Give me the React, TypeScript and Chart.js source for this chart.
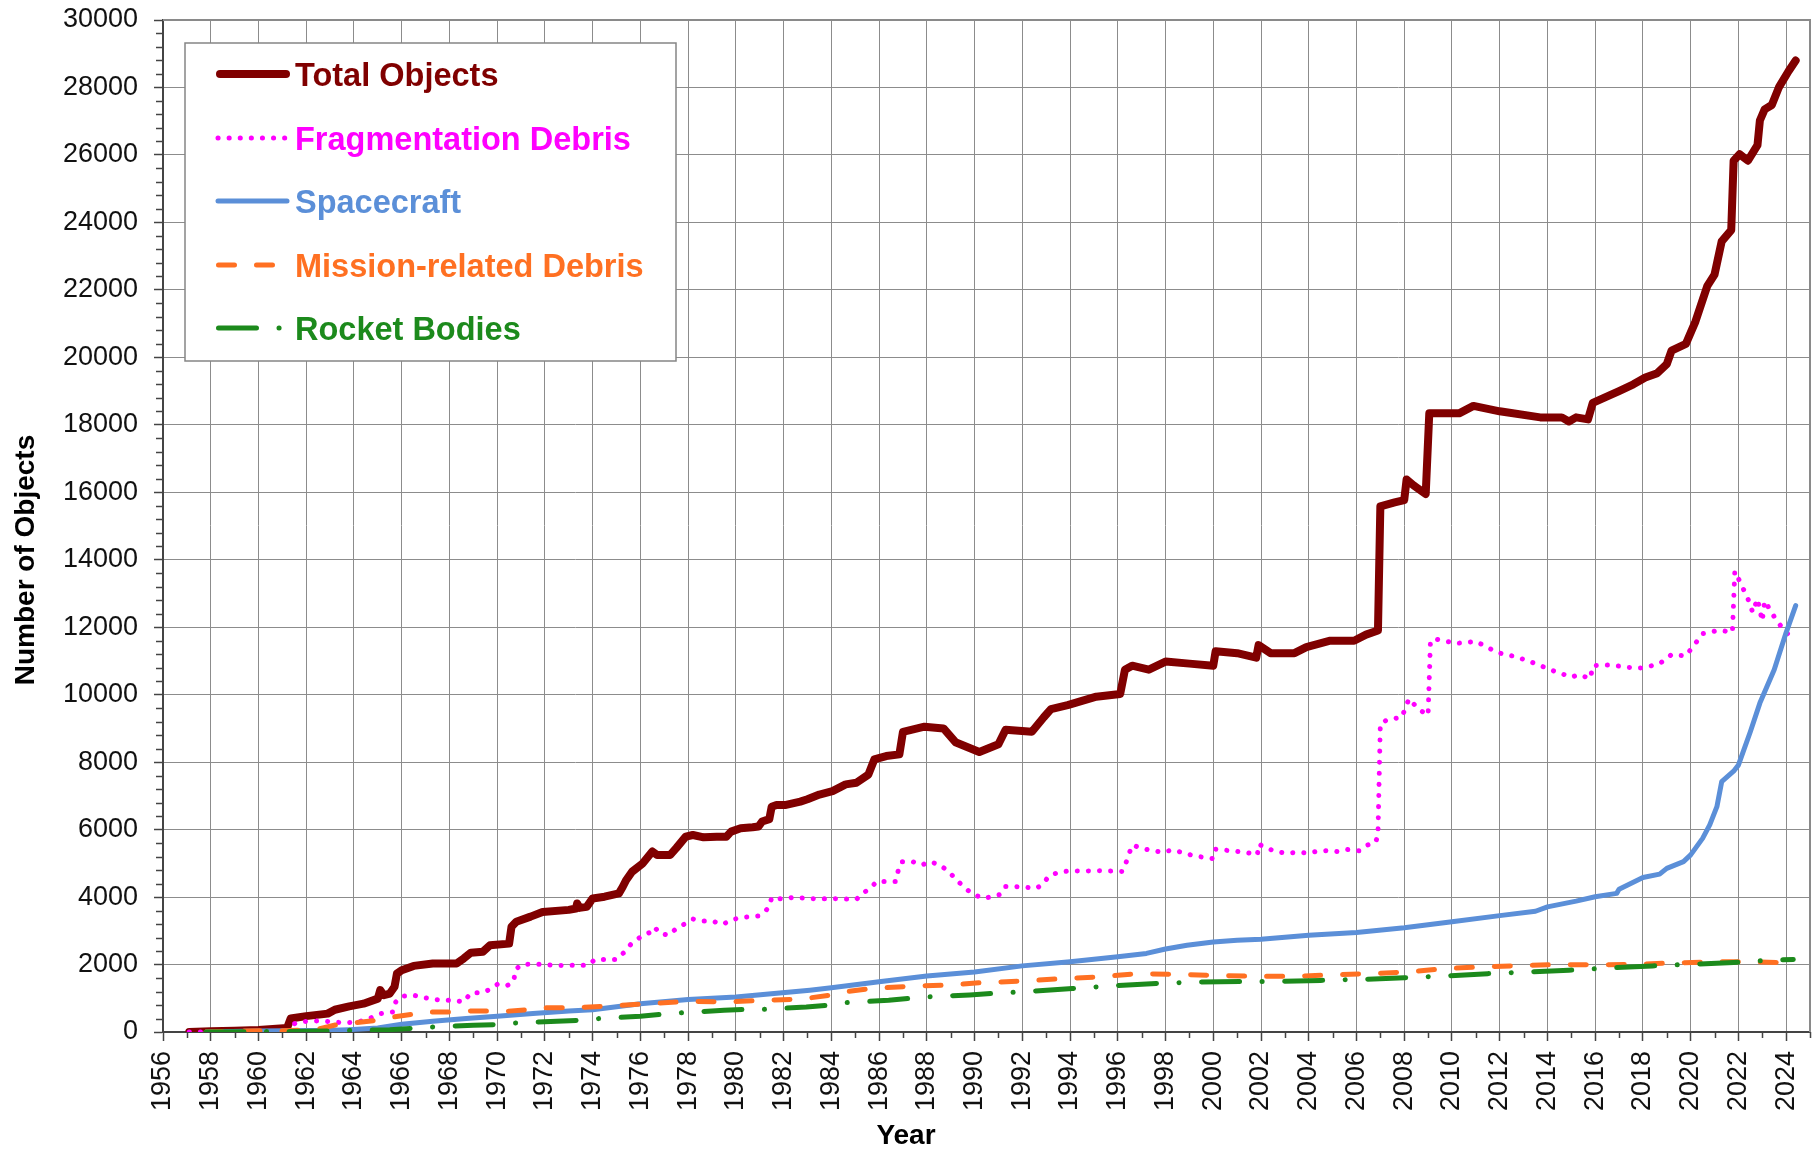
import React, { useEffect, useRef } from 'react';
import { Chart, registerables } from 'chart.js';

Chart.register(...registerables);

const W = 1813;
const H = 1153;
const FONT = '"Liberation Sans", Arial, Helvetica, sans-serif';

// ---- tick labels ----
const xTickYears = [
  1956, 1958, 1960, 1962, 1964, 1966, 1968, 1970, 1972, 1974, 1976, 1978, 1980, 1982, 1984,
  1986, 1988, 1990, 1992, 1994, 1996, 1998, 2000, 2002, 2004, 2006, 2008, 2010, 2012, 2014,
  2016, 2018, 2020, 2022, 2024,
];
const yTickValues = [
  0, 2000, 4000, 6000, 8000, 10000, 12000, 14000, 16000, 18000, 20000, 22000, 24000, 26000,
  28000, 30000,
];

// ---- series names ----
const seriesNames = [
  'Total Objects',
  'Fragmentation Debris',
  'Spacecraft',
  'Mission-related Debris',
  'Rocket Bodies',
];

// ---- Total Objects ----
const totalYears = [
  1957.1, 1958.0, 1959.0, 1960.0, 1961.2, 1961.35, 1962.0, 1962.9, 1963.2, 1963.8, 1964.4,
  1965.0, 1965.1, 1965.25, 1965.5, 1965.7, 1965.8, 1966.0, 1966.5, 1967.3, 1968.3, 1968.6,
  1968.9, 1969.4, 1969.7, 1970.5, 1970.6, 1970.8, 1971.4, 1971.9, 1973.0, 1973.3, 1973.35,
  1973.45, 1973.75, 1974.0, 1974.5, 1975.1, 1975.25, 1975.4, 1975.65, 1976.1, 1976.5, 1976.7,
  1977.25, 1977.5, 1977.9, 1978.2, 1978.65, 1979.2, 1979.6, 1979.8, 1980.2, 1980.7, 1980.95,
  1981.1, 1981.4, 1981.5, 1981.7, 1982.1, 1982.7, 1983.0, 1983.5, 1984.05, 1984.6, 1985.05,
  1985.55, 1985.8, 1986.3, 1986.85, 1987.0, 1987.9, 1988.7, 1989.2, 1990.2, 1991.0, 1991.3,
  1992.4, 1992.9, 1993.2, 1993.9, 1995.1, 1996.1, 1996.3, 1996.6, 1997.3, 1998.0, 1999.0,
  2000.0, 2000.1, 2001.0, 2001.8, 2001.9, 2002.4, 2003.4, 2003.9, 2004.9, 2005.9, 2006.4,
  2006.9, 2007.0, 2007.6, 2008.0, 2008.1, 2008.4, 2008.9, 2009.05, 2010.3, 2010.9, 2012.0,
  2013.7, 2014.6, 2014.9, 2015.2, 2015.7, 2015.9, 2016.6, 2017.0, 2017.6, 2018.1, 2018.6,
  2019.0, 2019.2, 2019.8, 2020.2, 2020.7, 2021.0, 2021.3, 2021.7, 2021.8, 2022.05, 2022.4,
  2022.8, 2022.9, 2023.1, 2023.4, 2023.7, 2024.1, 2024.4,
];
const totalCounts = [
  0, 20, 40, 60, 120, 400, 470, 545, 660, 760, 840,
  990, 1240, 1090, 1140, 1340, 1730, 1830, 1960, 2030, 2030, 2180,
  2350, 2380, 2570, 2620, 3120, 3270, 3420, 3560, 3620, 3660, 3810,
  3680, 3710, 3960, 4010, 4110, 4290, 4500, 4750, 5000, 5350, 5250,
  5250, 5450, 5790, 5840, 5770, 5790, 5790, 5940, 6040, 6070, 6090,
  6240, 6310, 6680, 6730, 6730, 6830, 6900, 7040, 7140, 7340, 7390,
  7630, 8080, 8180, 8230, 8900, 9050, 9000, 8590, 8300, 8530, 8960,
  8900, 9330, 9570, 9690, 9940, 10020, 10740, 10860, 10740, 10980, 10920,
  10860, 11290, 11230, 11100, 11470, 11230, 11230, 11410, 11600, 11600, 11780,
  11900, 15580, 15700, 15770, 16380, 16200, 15950, 18340, 18340, 18560, 18400,
  18220, 18220, 18100, 18220, 18160, 18650, 18870, 19000, 19200, 19400, 19530,
  19800, 20200, 20400, 21060, 22120, 22450, 23440, 23770, 25830, 26020, 25830,
  26290, 27020, 27350, 27480, 28010, 28480, 28800,
];

// ---- Fragmentation Debris ----
const fragYears = [
  1957.1, 1961.3, 1961.4, 1961.75, 1962.65, 1963.6, 1964.1, 1964.5, 1965.1, 1965.65, 1965.75,
  1966.0, 1966.5, 1966.8, 1967.3, 1967.7, 1968.2, 1968.6, 1968.9, 1969.3, 1969.7, 1970.0,
  1970.4, 1970.7, 1970.75, 1971.0, 1971.4, 1971.9, 1972.3, 1972.8, 1973.35, 1973.8, 1974.1,
  1975.0, 1975.3, 1975.6, 1976.1, 1976.4, 1976.6, 1976.8, 1977.2, 1977.5, 1977.9, 1978.2,
  1978.6, 1979.0, 1979.45, 1979.8, 1980.2, 1980.6, 1980.95, 1981.2, 1981.4, 1981.5, 1981.95,
  1982.4, 1983.3, 1984.15, 1985.05, 1985.3, 1985.6, 1985.9, 1986.7, 1986.8, 1986.95, 1987.4,
  1987.8, 1988.1, 1988.5, 1988.9, 1989.25, 1989.55, 1989.9, 1990.4, 1990.7, 1991.1, 1991.3,
  1991.7, 1992.15, 1992.6, 1992.9, 1993.1, 1993.5, 1993.9, 1995.3, 1996.2, 1996.35, 1996.6,
  1997.1, 1997.5, 1997.9, 1998.3, 1998.7, 1999.2, 1999.6, 2000.0, 2000.1, 2000.5, 2001.0,
  2001.4, 2001.85, 2001.9, 2002.3, 2002.7, 2003.1, 2003.55, 2003.95, 2004.3, 2004.8, 2005.2,
  2005.6, 2006.1, 2006.4, 2006.8, 2006.9, 2007.0, 2007.3, 2007.9, 2008.2, 2008.6, 2009.0,
  2009.1, 2009.3, 2010.2, 2011.0, 2011.9, 2012.7, 2013.5, 2014.2, 2015.0, 2015.3, 2015.8,
  2015.9, 2016.6, 2017.4, 2018.0, 2018.7, 2019.2, 2019.8, 2020.2, 2020.5, 2021.2, 2021.75,
  2021.85, 2022.05, 2022.4, 2022.6, 2022.8, 2023.0, 2023.1, 2023.5, 2023.9, 2024.3,
];
const fragCounts = [
  0, 0, 220, 310, 330, 270, 300, 350, 545, 595, 890,
  1060, 1090, 1040, 970, 940, 940, 890, 1160, 1160, 1260, 1410,
  1370, 1500, 1830, 2000, 2010, 2010, 1980, 1970, 1980, 1980, 2150,
  2150, 2350, 2600, 2870, 2950, 3110, 2920, 2870, 3070, 3220, 3350,
  3290, 3290, 3190, 3320, 3390, 3420, 3440, 3560, 3710, 3990, 3940,
  3990, 3950, 3950, 3930, 4110, 4240, 4460, 4460, 4780, 5050, 5050,
  4950, 5050, 4970, 4770, 4500, 4310, 4090, 3960, 4010, 4080, 4310,
  4310, 4290, 4260, 4410, 4620, 4730, 4770, 4780, 4760, 5030, 5540,
  5430, 5370, 5330, 5400, 5320, 5220, 5180, 5140, 5420, 5390, 5350,
  5320, 5250, 5570, 5430, 5340, 5300, 5330, 5300, 5350, 5380, 5350,
  5410, 5370, 5530, 5610, 5860, 9140, 9260, 9330, 9880, 9570, 9390,
  11600, 11650, 11520, 11580, 11250, 11120, 10920, 10720, 10520, 10590, 10480,
  10860, 10880, 10810, 10790, 10920, 11190, 11150, 11520, 11810, 11910, 11850,
  13660, 13370, 12840, 12440, 12840, 12180, 12780, 12310, 11910, 11650,
];

// ---- Spacecraft ----
const scYears = [
  1957.8, 1960.0, 1963.1, 1963.8, 1965.0, 1966.0, 1967.3, 1968.7, 1970.0, 1971.5, 1973.0,
  1974.0, 1976.0, 1978.0, 1980.0, 1981.6, 1983.1, 1984.0, 1986.0, 1988.0, 1990.0, 1992.0,
  1994.0, 1996.0, 1997.2, 1998.0, 1998.9, 2000.0, 2001.0, 2002.0, 2004.0, 2006.0, 2008.0,
  2010.0, 2012.0, 2013.5, 2014.0, 2015.2, 2016.0, 2016.9, 2017.0, 2018.0, 2018.7, 2019.0,
  2019.7, 2020.0, 2020.5, 2020.8, 2021.1, 2021.3, 2021.8, 2022.0, 2022.5, 2022.9, 2023.5,
  2024.0, 2024.4,
];
const scCounts = [
  0, 30, 50, 70, 120, 230, 320, 400, 470, 545, 625,
  660, 840, 960, 1040, 1140, 1240, 1310, 1490, 1660, 1780, 1960,
  2080, 2230, 2330, 2460, 2570, 2670, 2720, 2750, 2870, 2950, 3090,
  3270, 3450, 3580, 3710, 3880, 4010, 4110, 4230, 4580, 4680, 4850,
  5050, 5250, 5740, 6140, 6680, 7420, 7730, 7910, 8900, 9750, 10740,
  11840, 12640,
];

// ---- Mission-related Debris ----
const missionYears = [
  1957.8, 1959.0, 1961.0, 1962.4, 1963.3, 1964.0, 1965.0, 1965.5, 1966.4, 1967.2, 1968.0,
  1968.9, 1969.8, 1970.4, 1971.4, 1972.0, 1973.1, 1974.7, 1976.4, 1978.0, 1979.6, 1981.15,
  1982.7, 1983.9, 1984.5, 1985.7, 1987.4, 1989.0, 1990.2, 1992.0, 1993.6, 1995.2, 1996.8,
  1998.5, 2000.0, 2001.7, 2003.3, 2004.9, 2006.55, 2008.1, 2009.7, 2011.3, 2012.9, 2014.5,
  2016.1, 2017.8, 2019.4, 2020.95, 2022.5, 2023.6, 2024.0, 2024.3,
];
const missionCounts = [
  0, 30, 40, 70, 220, 270, 350, 430, 520, 595, 595,
  625, 625, 615, 670, 720, 720, 770, 840, 910, 890, 940,
  970, 1090, 1190, 1290, 1360, 1390, 1460, 1510, 1580, 1630, 1730,
  1710, 1680, 1650, 1650, 1690, 1730, 1780, 1880, 1930, 1970, 2000,
  1990, 2010, 2050, 2080, 2080, 2060, 2000, 1930,
];

// ---- Rocket Bodies ----
const rocketYears = [
  1957.8, 1962.0, 1963.0, 1963.8, 1965.5, 1966.5, 1967.3, 1969.0, 1970.0, 1970.8, 1972.5,
  1973.5, 1974.3, 1976.0, 1976.8, 1977.8, 1979.5, 1980.3, 1981.15, 1982.95, 1983.8, 1984.6,
  1986.4, 1987.2, 1988.0, 1989.8, 1990.7, 1992.4, 1994.1, 1995.8, 1997.6, 1999.3, 2001.1,
  2002.8, 2004.5, 2006.3, 2008.0, 2009.7, 2011.5, 2013.2, 2014.9, 2016.6, 2018.4, 2020.1,
  2021.8, 2023.4, 2024.3,
];
const rocketCounts = [
  0, 20, 30, 50, 70, 110, 150, 200, 220, 270, 320,
  350, 400, 470, 520, 575, 645, 665, 670, 740, 790, 870,
  940, 990, 1040, 1100, 1140, 1210, 1290, 1370, 1440, 1480, 1500,
  1500, 1530, 1560, 1610, 1660, 1730, 1780, 1830, 1900, 1960, 2010,
  2060, 2130, 2150,
];

// ---- styles ----
const COLORS = ['#800000', '#ff00ff', '#5b8fd8', '#ff7022', '#1c8a1c'];
const WIDTHS = [8, 5, 5, 5, 5];
const DASHES: number[][] = [[], [0.1, 11], [], [16, 22], [38, 22.5, 0.1, 22.5]];

const toPoints = (xs: number[], ys: number[]) => xs.map((x, i) => ({ x, y: ys[i] }));

const zeroPadding = (s: any) => {
  s.paddingLeft = 0;
  s.paddingRight = 0;
  s.paddingTop = 0;
  s.paddingBottom = 0;
};

const decorPlugin = {
  id: 'decor',
  afterDraw(chart: any) {
    const { ctx, chartArea: a, scales } = chart;
    const xs = scales.x;
    const ys = scales.y;
    ctx.save();

    // top/right frame
    ctx.strokeStyle = '#8a8a8a';
    ctx.lineWidth = 2;
    ctx.beginPath();
    ctx.moveTo(a.left, a.top);
    ctx.lineTo(a.right, a.top);
    ctx.lineTo(a.right, a.bottom);
    ctx.stroke();

    // minor ticks
    ctx.strokeStyle = '#444';
    ctx.lineWidth = 1.5;
    ctx.beginPath();
    for (let yr = 1957; yr <= 2025; yr += 2) {
      const px = Math.round(xs.getPixelForValue(yr)) + 0.5;
      ctx.moveTo(px, a.bottom);
      ctx.lineTo(px, a.bottom + 6);
    }
    for (let v = 400; v < 30000; v += 400) {
      if (v % 2000 === 0) continue;
      const py = Math.round(ys.getPixelForValue(v)) + 0.5;
      ctx.moveTo(a.left, py);
      ctx.lineTo(a.left - 7, py);
    }
    ctx.stroke();

    // legend box
    const bx = 185, by = 43, bw = 491, bh = 318;
    ctx.fillStyle = '#ffffff';
    ctx.fillRect(bx, by, bw, bh);
    ctx.strokeStyle = '#858585';
    ctx.lineWidth = 1.5;
    ctx.strokeRect(bx, by, bw, bh);

    const rowY = [74, 138, 201, 265, 328];
    const lineStart = [220, 218, 218, 218.5, 218.5];
    const lineEnd = [286, 289, 287, 275, 281];
    ctx.font = `bold 32.5px ${FONT}`;
    ctx.textAlign = 'left';
    ctx.textBaseline = 'alphabetic';
    seriesNames.forEach((name, i) => {
      ctx.save();
      ctx.strokeStyle = COLORS[i];
      ctx.lineWidth = i === 0 ? 8 : 5;
      ctx.lineCap = 'round';
      ctx.setLineDash(DASHES[i]);
      ctx.beginPath();
      ctx.moveTo(lineStart[i], rowY[i]);
      ctx.lineTo(lineEnd[i], rowY[i]);
      ctx.stroke();
      ctx.restore();
      ctx.fillStyle = COLORS[i];
      ctx.fillText(name, 295, rowY[i] + 11.5);
    });

    // axis titles
    ctx.fillStyle = '#000';
    ctx.font = `bold 28px ${FONT}`;
    ctx.textAlign = 'center';
    ctx.textBaseline = 'middle';
    ctx.fillText('Year', 906, 1136);
    ctx.save();
    ctx.translate(26, 560);
    ctx.rotate(-Math.PI / 2);
    ctx.fillText('Number of Objects', 0, 0);
    ctx.restore();

    ctx.restore();
  },
};

export default function App() {
  const ref = useRef<HTMLCanvasElement | null>(null);

  useEffect(() => {
    document.body.style.margin = '0';
    const canvas = ref.current;
    if (!canvas) return;

    const seriesData = [
      toPoints(totalYears, totalCounts),
      toPoints(fragYears, fragCounts),
      toPoints(scYears, scCounts),
      toPoints(missionYears, missionCounts),
      toPoints(rocketYears, rocketCounts),
    ];

    const chart = new Chart(canvas, {
      type: 'line',
      data: {
        datasets: seriesNames.map((name, i) => ({
          label: name,
          data: seriesData[i],
          borderColor: COLORS[i],
          backgroundColor: COLORS[i],
          borderWidth: WIDTHS[i],
          borderDash: DASHES[i],
          borderCapStyle: 'round',
          borderJoinStyle: 'round',
          pointRadius: 0,
          pointHoverRadius: 0,
          tension: 0,
          fill: false,
          order: 5 - i,
        })),
      },
      options: {
        responsive: false,
        animation: false,
        devicePixelRatio: 1,
        layout: { padding: { left: 0, right: 3, top: 20, bottom: 0 } },
        plugins: {
          legend: { display: false },
          tooltip: { enabled: false },
          title: { display: false },
        },
        scales: {
          x: {
            type: 'linear',
            min: 1956,
            max: 2025,
            afterBuildTicks: (s: any) => {
              s.ticks = xTickYears.map((v) => ({ value: v }));
            },
            afterFit: (s: any) => {
              s.height = H - 1032;
              zeroPadding(s);
            },
            ticks: {
              autoSkip: false,
              minRotation: 90,
              maxRotation: 90,
              padding: 10,
              color: '#111',
              font: { family: FONT, size: 27 },
              callback: (v: any) => String(v),
            },
            grid: {
              color: '#8c8c8c',
              lineWidth: 1,
              tickLength: 9,
              tickColor: '#444',
              tickWidth: 1.5,
            },
            border: { color: '#444', width: 2 },
          },
          y: {
            type: 'linear',
            min: 0,
            max: 30000,
            afterBuildTicks: (s: any) => {
              s.ticks = yTickValues.map((v) => ({ value: v }));
            },
            afterFit: (s: any) => {
              s.width = 163;
              zeroPadding(s);
            },
            ticks: {
              padding: 16,
              color: '#111',
              font: { family: FONT, size: 27 },
              callback: (v: any) => String(v),
            },
            grid: {
              color: '#8c8c8c',
              lineWidth: 1,
              tickLength: 9,
              tickColor: '#444',
              tickWidth: 1.5,
            },
            border: { color: '#444', width: 2 },
          },
        },
      },
      plugins: [decorPlugin],
    } as any);

    return () => chart.destroy();
  }, []);

  return (
    <canvas
      ref={ref}
      width={W}
      height={H}
      style={{ display: 'block', width: W, height: H }}
    />
  );
}
